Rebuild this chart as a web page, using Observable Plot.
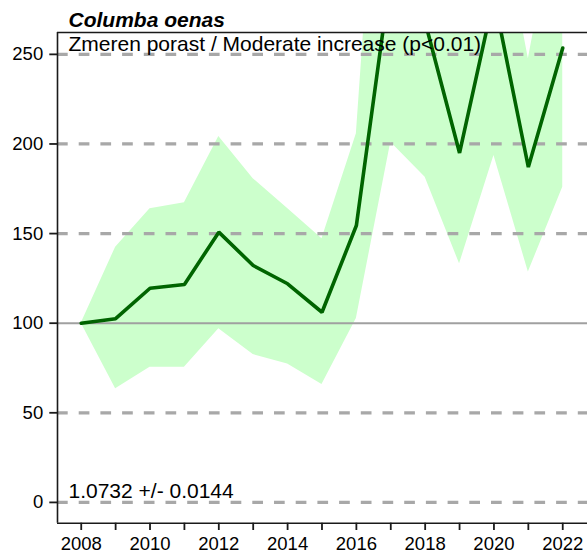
<!DOCTYPE html>
<html>
<head>
<meta charset="utf-8">
<script src="https://cdn.jsdelivr.net/npm/d3@7"></script>
<script src="https://cdn.jsdelivr.net/npm/@observablehq/plot@0.6"></script>
<style>
  html, body { margin: 0; padding: 0; background: #fff; overflow: hidden; }
  #chart svg { display: block; }
</style>
</head>
<body>
<div id="chart"></div>
<script>
// ---- data ----
const years   = [2008, 2009, 2010, 2011, 2012, 2013, 2014, 2015, 2016, 2017, 2018, 2019, 2020, 2021, 2022];
const index   = [100, 102.5, 119.5, 121.6, 150.8, 132.2, 122.0, 106.1, 154.5, 295, 268, 195.0, 282, 187.1, 253.5];
const lower   = [100, 63.4, 75.4, 75.4, 96.9, 82.5, 77.3, 65.8, 102.6, 201, 181.5, 133.1, 193.6, 128.5, 175.9];
const upper   = [100, 142.4, 163.8, 167.2, 204.2, 180.6, 164.0, 147.1, 205.7, 480, 420, 380, 349, 247.5, 349];

const yTicks       = [0, 50, 100, 150, 200, 250];
const dashedLevels = [0, 50, 150, 200, 250];
const baseLevel    = [100];
const xTicks       = years;
const xLabelYears  = [2008, 2010, 2012, 2014, 2016, 2018, 2020, 2022];

const titleText    = "Columba oenas";
const subtitleText = "Zmeren porast / Moderate increase (p<0.01)";
const slopeText    = "1.0732 +/- 0.0144";

const xDomain = [2007.31, 2022.72];
const yDomain = [-11.6, 262.2];

const rows = years.map((year, i) => ({year, index: index[i], lower: lower[i], upper: upper[i]}));

const font = "'Liberation Sans', Arial, Helvetica, sans-serif";

const chart = Plot.plot({
  width: 587,
  height: 553,
  marginLeft: 57,
  marginRight: 0,
  marginTop: 32,
  marginBottom: 30.3,
  style: {fontFamily: font, fontSize: "18.5px", color: "#000", background: "#fff", overflow: "visible"},
  x: {domain: xDomain, axis: null, label: null},
  y: {domain: yDomain, axis: null, label: null},
  marks: [
    Plot.areaY(rows, {x: "year", y1: "lower", y2: "upper", fill: "#ccffcc", clip: true}),
    Plot.ruleY(dashedLevels, {stroke: "#a8a8a8", strokeWidth: 3.3, strokeDasharray: "10.7,11"}),
    Plot.ruleY(baseLevel, {stroke: "#a0a0a0", strokeWidth: 2}),
    Plot.lineY(rows, {x: "year", y: "index", stroke: "#006400", strokeWidth: 3.6, strokeLinejoin: "miter", clip: true}),
    // frame (left, bottom, top)
    Plot.ruleX([xDomain[0]], {stroke: "#1a1a1a", strokeWidth: 1.6}),
    Plot.ruleY([yDomain[0]], {stroke: "#1a1a1a", strokeWidth: 1.6}),
    Plot.ruleY([yDomain[1]], {stroke: "#1a1a1a", strokeWidth: 1.6}),
    // axes
    Plot.axisY(yTicks, {anchor: "left", label: null, tickSize: 7.7, tickPadding: 6.6, strokeWidth: 1.8, stroke: "#1a1a1a", fontSize: 18.5, fill: "#000"}),
    Plot.axisX(xTicks, {anchor: "bottom", label: null, tickSize: 7.3, tickPadding: 6, strokeWidth: 1.8, stroke: "#1a1a1a", fontSize: 18.5, fill: "#000",
      tickFormat: d => xLabelYears.includes(d) ? String(d) : ""}),
    // texts
    Plot.text([titleText], {frameAnchor: "top-left", dx: 11, dy: -5.3, lineAnchor: "bottom", textAnchor: "start",
      fontSize: 21, fontWeight: "bold", fontStyle: "italic", fill: "#000"}),
    Plot.text([subtitleText], {frameAnchor: "top-left", dx: 11, dy: 18.7, lineAnchor: "bottom", textAnchor: "start",
      fontSize: 21, fill: "#000"}),
    Plot.text([slopeText], {frameAnchor: "bottom-left", dx: 11, dy: -25.4, lineAnchor: "bottom", textAnchor: "start",
      fontSize: 21, fill: "#000"})
  ]
});

document.getElementById("chart").appendChild(chart);
</script>
</body>
</html>
